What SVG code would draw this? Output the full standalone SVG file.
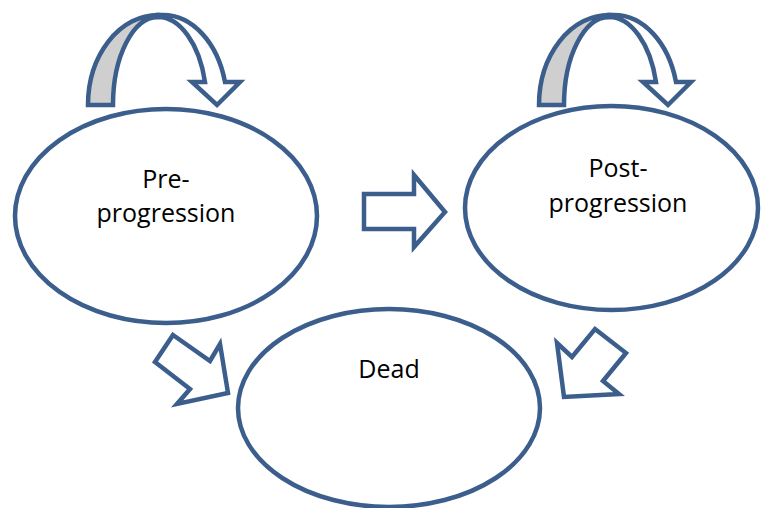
<svg xmlns="http://www.w3.org/2000/svg" width="763" height="508" viewBox="0 0 763 508">
<style>
.shape{stroke:#3B5E8C;stroke-width:4.5;stroke-linejoin:miter;fill:#FFFFFF}
.back{fill:#CFCFCF}
.lbl{font-family:"Open Sans","Noto Sans",sans-serif;font-size:25px;fill:#000000;text-anchor:middle}
</style>
<defs>
<g id="loop">
<path class="shape back" d="M88,105 A70,90 0 0 1 158,15 L158,17 A45,88 0 0 0 113,105 Z"/>
<path class="shape" d="M158,15 L163,15 A64,90 0 0 1 225,82 L240,82 L217,105 L192,82 L205,82 A48.7,88 0 0 0 158,17 Z"/>
</g>
</defs>
<rect width="763" height="508" fill="#FFFFFF"/>
<g id="connectors">
<g id="loop-pre"><use href="#loop"/></g>
<g id="loop-post"><use href="#loop" transform="translate(451,0)"/></g>
<path id="pre-to-post" class="shape" d="M364,194 L414,194 L414,175 L445,212 L414,247 L414,229 L364,229 Z"/>
<path id="pre-to-dead" class="shape" d="M173,335 L210,361 L220,344 L228,393 L177,404 L190,389 L155,362 Z"/>
<path id="post-to-dead" class="shape" d="M595,329 L626,353 L603,381 L619,394 L564,397 L557,343 L572,357 Z"/>
</g>
<g id="pre">
<ellipse class="shape" cx="166" cy="216" rx="151" ry="107"/>
<text class="lbl" x="166" y="188">Pre-</text>
<text class="lbl" x="166" y="222">progression</text>
</g>
<g id="post">
<ellipse class="shape" cx="611.5" cy="208" rx="146.5" ry="102"/>
<text class="lbl" x="618" y="177">Post-</text>
<text class="lbl" x="618" y="212">progression</text>
</g>
<g id="dead">
<ellipse class="shape" cx="389" cy="408" rx="151" ry="99"/>
<text class="lbl" x="389" y="378">Dead</text>
</g>
</svg>
